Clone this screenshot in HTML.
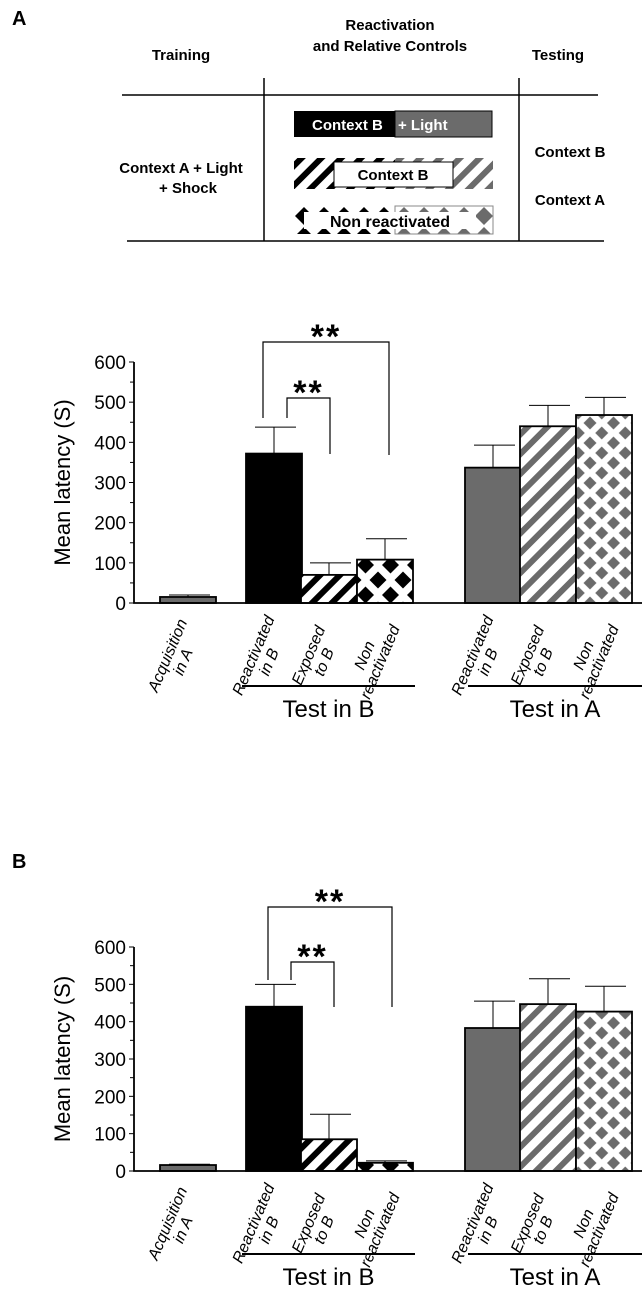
<!DOCTYPE html>
<html><head><meta charset="utf-8"><style>
html,body{margin:0;padding:0;background:#fff;}
svg{display:block;font-family:"Liberation Sans",Arial,sans-serif;}
</style></head><body>
<svg id="fig" width="644" height="1312" viewBox="0 0 644 1312" xmlns="http://www.w3.org/2000/svg">
<defs>
  <pattern id="stripeK" patternUnits="userSpaceOnUse" width="14" height="14" patternTransform="rotate(45)">
    <rect width="14" height="14" fill="#fff"/><rect width="6" height="14" fill="#000"/>
  </pattern>
  <pattern id="stripeG" patternUnits="userSpaceOnUse" width="14" height="14" patternTransform="rotate(45)">
    <rect width="14" height="14" fill="#fff"/><rect width="6" height="14" fill="#6b6b6b"/>
  </pattern>
  <pattern id="diamK" patternUnits="userSpaceOnUse" width="25" height="30" x="365.5" y="565">
    <rect width="25" height="30" fill="#fff"/>
    <polygon points="12.5,6.5 21,15 12.5,23.5 4,15" fill="#000"/>
    <polygon points="0,-8.5 8.5,0 0,8.5 -8.5,0" fill="#000"/>
    <polygon points="25,-8.5 33.5,0 25,8.5 16.5,0" fill="#000"/>
    <polygon points="0,21.5 8.5,30 0,38.5 -8.5,30" fill="#000"/>
    <polygon points="25,21.5 33.5,30 25,38.5 16.5,30" fill="#000"/>
  </pattern>
  <pattern id="diamG" patternUnits="userSpaceOnUse" width="23.5" height="20" x="578.25" y="413">
    <rect width="23.5" height="20" fill="#fff"/>
    <polygon points="11.75,3.5 18.25,10 11.75,16.5 5.25,10" fill="#6b6b6b"/>
    <polygon points="0,-6.5 6.5,0 0,6.5 -6.5,0" fill="#6b6b6b"/>
    <polygon points="23.5,-6.5 30,0 23.5,6.5 17,0" fill="#6b6b6b"/>
    <polygon points="0,13.5 6.5,20 0,26.5 -6.5,20" fill="#6b6b6b"/>
    <polygon points="23.5,13.5 30,20 23.5,26.5 17,20" fill="#6b6b6b"/>
  </pattern>
  <pattern id="diamK2" patternUnits="userSpaceOnUse" width="20" height="20" x="294" y="206">
    <rect width="20" height="20" fill="#fff"/>
    <polygon points="10,1 19,10 10,19 1,10" fill="#000"/>
  </pattern>
  <pattern id="diamG2" patternUnits="userSpaceOnUse" width="20" height="20" x="294" y="206">
    <rect width="20" height="20" fill="#fff"/>
    <polygon points="10,1 19,10 10,19 1,10" fill="#6b6b6b"/>
  </pattern>
</defs>

<g font-weight="bold" font-size="15">
  <text x="12" y="25" font-size="20">A</text>
  <text x="181" y="60" text-anchor="middle">Training</text>
  <text x="390" y="30" text-anchor="middle">Reactivation</text>
  <text x="390" y="51" text-anchor="middle">and Relative Controls</text>
  <text x="558" y="60" text-anchor="middle">Testing</text>
  <line x1="122" y1="95" x2="598" y2="95" stroke="#000" stroke-width="1.5"/>
  <line x1="127" y1="241" x2="604" y2="241" stroke="#000" stroke-width="1.5"/>
  <line x1="264" y1="78" x2="264" y2="241" stroke="#000" stroke-width="1.5"/>
  <line x1="519" y1="78" x2="519" y2="241" stroke="#000" stroke-width="1.5"/>
  <text x="181" y="173" text-anchor="middle">Context A + Light</text>
  <text x="188" y="193" text-anchor="middle">+ Shock</text>
  <text x="570" y="157" text-anchor="middle">Context B</text>
  <text x="570" y="205" text-anchor="middle">Context A</text>
  <g>
    <rect x="294" y="111" width="101" height="26" fill="#000"/>
    <rect x="395" y="111" width="97" height="26" fill="#6b6b6b" stroke="#000" stroke-width="1"/>
    <text x="312" y="130" fill="#fff">Context B</text>
    <text x="398" y="130" fill="#fff">+ Light</text>
  </g>
  <g>
    <rect x="294" y="158" width="101" height="31" fill="url(#stripeK)"/>
    <rect x="395" y="158" width="98" height="31" fill="url(#stripeG)"/>
    <rect x="334" y="162" width="119" height="25" fill="#fff" stroke="#000" stroke-width="1"/>
    <text x="393" y="180" text-anchor="middle">Context B</text>
  </g>
  <g>
    <rect x="294" y="206" width="101" height="28" fill="url(#diamK2)"/>
    <rect x="395" y="206" width="98" height="28" fill="url(#diamG2)" stroke="#888" stroke-width="1"/>
    <rect x="304" y="212" width="172" height="17" fill="#fff"/>
    <text x="390" y="227" text-anchor="middle" font-size="16">Non reactivated</text>
  </g>
</g>
<text x="12" y="868" font-size="20" font-weight="bold">B</text>
<g id="chartA"></g>
<g id="chartB"></g>
</svg>
<script>
const categories = [["Acquisition","in A"],["Reactivated","in B"],["Exposed","to B"],["Non","reactivated"],["Reactivated","in B"],["Exposed","to B"],["Non","reactivated"]];
const yTicks = [0,100,200,300,400,500,600];
const meansA = [15,372,70,108,337,440,468];
const errA = [5,66,30,52,56,52,44];
const meansB = [16,440,85,22,383,447,427];
const errB = [2,60,67,5,72,68,68];
const fills = ["#6b6b6b","#000","url(#stripeK)","url(#diamK)","#6b6b6b","url(#stripeG)","url(#diamG)"];
const barLeft = [160,246,301,357,465,520,576];
const NS='http://www.w3.org/2000/svg';
function mk(tag, attrs, parent){const e=document.createElementNS(NS,tag);for(const k in attrs)e.setAttribute(k,attrs[k]);parent.appendChild(e);return e;}
function draw(g, means, errs, y0, y600, b){
  const y = v => y0 + (y600 - y0) * v / 600;
  const ax=134, bw=56;
  for(let i=0;i<means.length;i++){
    const x=barLeft[i];
    const ey=y(means[i]+errs[i]);
    const cx=x+bw/2;
    const el=mk('line',{x1:cx,y1:y(means[i]),x2:cx,y2:ey,stroke:'#000','stroke-width':1},g);
    
    
    const cap=mk('line',{x1:cx-19,y1:ey,x2:cx+22,y2:ey,stroke:'#000','stroke-width':1},g);
    
    
    const r=mk('rect',{x:x,y:y(means[i]),width:bw,height:y0-y(means[i]),fill:fills[i],stroke:'#000','stroke-width':1.8},g);
    
    
    const t=mk('text',{transform:`translate(${cx-12},${y0+56}) rotate(-67)`,'text-anchor':'middle','font-size':16,'font-style':'italic'},g);
    
    
    const s1=mk('tspan',{x:0,dy:'-0.25em'},t); s1.textContent=categories[i][0];
    const s2=mk('tspan',{x:0,dy:'1.05em'},t); s2.textContent=categories[i][1];
  }
  const axis=mk('path',{d:`M${ax},${y600} V${y0} H642`,fill:'none',stroke:'#000','stroke-width':1.8},g);
  
  
  yTicks.forEach(v=>{
    const tk=mk('line',{x1:ax-5,y1:y(v),x2:ax,y2:y(v),stroke:'#000','stroke-width':1},g);
    
    
    if(v<600){const m=mk('line',{x1:ax-4,y1:y(v+50),x2:ax,y2:y(v+50),stroke:'#000','stroke-width':1},g);
      
      }
    const lb=mk('text',{x:ax-8,y:y(v)+7,'text-anchor':'end','font-size':19},g);
    
    
    lb.textContent=v;
  });
  const yt=mk('text',{transform:`translate(70,${(y0+y600)/2}) rotate(-90)`,'text-anchor':'middle','font-size':22},g);
  
  
  yt.textContent='Mean latency (S)';
  b.forEach(br=>{
    const p=mk('path',{d:`M${br[0]},${br[1]} V${br[2]} H${br[3]} V${br[4]}`,fill:'none',stroke:'#000','stroke-width':1.2},g);
    
    
    const st=mk('text',{x:(br[0]+br[3])/2,y:br[2]+6,'text-anchor':'middle','font-size':34,'font-weight':'bold','letter-spacing':2},g);
    
    
    st.textContent='**';
  });
  [[242,415,'Test in B'],[468,642,'Test in A']].forEach(gr=>{
    const l=mk('line',{x1:gr[0],y1:y0+83,x2:gr[1],y2:y0+83,stroke:'#000','stroke-width':2},g);
    
    
    const tx=mk('text',{x:(gr[0]+gr[1])/2,y:y0+114,'text-anchor':'middle','font-size':24},g);
    
    
    tx.textContent=gr[2];
  });
}
draw(document.getElementById('chartA'),meansA,errA,603,362,[[263,418,342,389,455],[287,418,398,330,454]]);
draw(document.getElementById('chartB'),meansB,errB,1171,947,[[268,980,907,392,1007],[291,980,962,334,1007]]);
</script>
</body></html>
